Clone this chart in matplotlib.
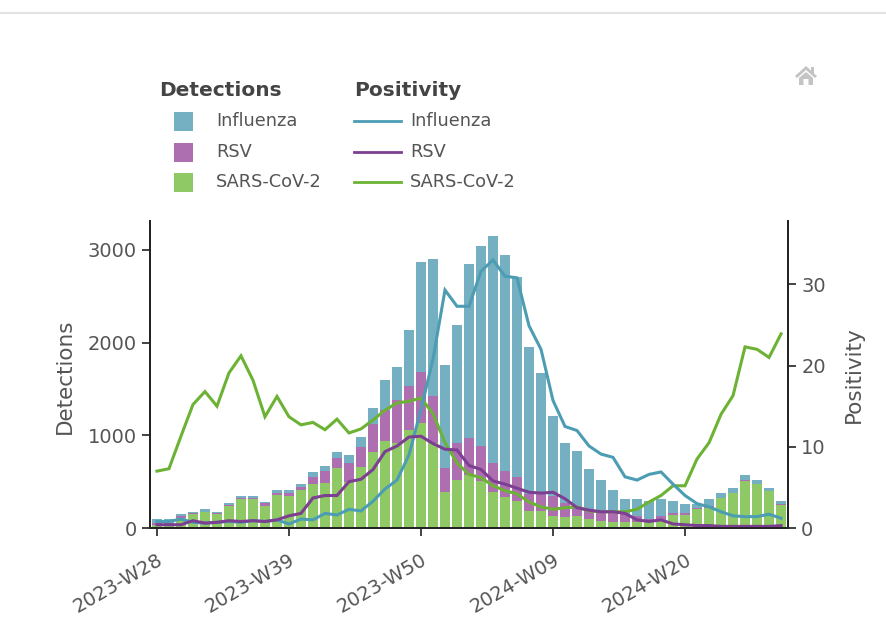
import matplotlib
matplotlib.use("Agg")
import matplotlib.pyplot as plt
from matplotlib.patches import Rectangle, Polygon
from matplotlib.lines import Line2D

W, H = 886, 641

# Week labels: 2023-W28 ... 2024-W28
weeks = [f"2023-W{w:02d}" for w in range(28, 53)] + [f"2024-W{w:02d}" for w in range(1, 29)]
tick_labels = ["2023-W28", "2023-W39", "2023-W50", "2024-W09", "2024-W20"]

# Detections (stacked bars)
sars_det = [30, 30, 105, 155, 170, 155, 240, 310, 310, 240, 360, 350, 412, 477, 490, 645, 500, 655,
            825, 940, 915, 1060, 1130, 915, 385, 520, 575, 510, 385, 330, 295, 185, 185, 130, 115, 130,
            97, 80, 70, 70, 60, 60, 80, 135, 135, 200, 215, 320, 375, 510, 470, 395, 250]
rsv_det = [20, 20, 25, 5, 5, 5, 10, 10, 10, 25, 20, 25, 30, 75, 130, 108, 205, 215,
           295, 330, 465, 470, 555, 505, 260, 395, 400, 370, 320, 287, 250, 180, 200, 220, 160, 110,
           108, 105, 115, 80, 70, 37, 50, 25, 25, 15, 25, 5, 5, 5, 5, 5, 5]
flu_det = [47, 47, 20, 10, 30, 10, 20, 20, 20, 20, 25, 30, 35, 48, 50, 72, 85, 110,
           170, 330, 360, 605, 1180, 1480, 1112, 1272, 1875, 2165, 2445, 2323, 2165, 1585, 1290, 855, 640, 590,
           430, 335, 227, 160, 180, 198, 180, 135, 100, 45, 70, 55, 50, 55, 45, 30, 40]

# Positivity (lines)
flu_pos = [0.8, 0.8, 1.1, 0.7, 0.6, 0.7, 0.8, 0.7, 0.9, 0.8, 1.0, 0.5, 1.1, 1.0, 1.8, 1.6, 2.3, 2.1,
           3.3, 4.8, 5.9, 9.0, 14.6, 20.8, 29.3, 27.3, 27.3, 31.6, 33.0, 31.0, 30.8, 24.9, 22.0, 15.7, 12.5, 12.0,
           10.1, 9.1, 8.7, 6.3, 5.9, 6.6, 6.9, 5.4, 4.0, 3.0, 2.6, 2.0, 1.5, 1.4, 1.4, 1.7, 1.2]
rsv_pos = [0.4, 0.4, 0.4, 0.9, 0.6, 0.7, 0.9, 0.8, 0.9, 0.8, 1.0, 1.5, 1.8, 3.7, 4.0, 4.0, 5.7, 6.0,
           7.2, 9.4, 10.1, 11.2, 11.3, 10.4, 9.7, 9.6, 7.7, 7.2, 5.8, 5.4, 4.9, 4.4, 4.3, 4.4, 3.6, 2.5,
           2.2, 2.0, 2.0, 1.8, 1.0, 0.8, 1.0, 0.5, 0.4, 0.3, 0.3, 0.2, 0.2, 0.2, 0.2, 0.2, 0.3]
sars_pos = [7.0, 7.3, 11.3, 15.2, 16.8, 15.0, 19.1, 21.2, 18.2, 13.7, 16.2, 13.7, 12.7, 13.0, 12.1, 13.4, 11.7, 12.2,
            13.3, 14.5, 15.4, 15.6, 16.0, 14.1, 10.5, 8.0, 6.6, 6.2, 5.2, 4.6, 4.2, 3.2, 2.6, 2.3, 2.5, 2.6,
            2.1, 2.0, 2.0, 2.0, 2.3, 3.2, 4.0, 5.2, 5.2, 8.5, 10.5, 14.0, 16.3, 22.3, 22.0, 21.0, 23.9]

FLU_BAR, RSV_BAR, SARS_BAR = "#74afc2", "#ad6fb0", "#8ec965"
FLU_LINE, RSV_LINE, SARS_LINE = "#4c9db3", "#7d3f91", "#6cb234"
TXT = "#555555"
AXC = "#222222"

plt.rcParams["font.family"] = ["DejaVu Sans"]
fig = plt.figure(figsize=(W / 100, H / 100), dpi=100, facecolor="white")
ax = fig.add_axes([150 / W, 1 - 528 / H, 638 / W, 307 / H])
ax2 = ax.twinx()
ax.set_zorder(1)
ax2.set_zorder(2)
ax2.patch.set_visible(False)

x = list(range(len(weeks)))
b1 = sars_det
b2 = [a + b for a, b in zip(sars_det, rsv_det)]
ax.bar(x, sars_det, width=0.8, color=SARS_BAR)
ax.bar(x, rsv_det, width=0.8, bottom=b1, color=RSV_BAR)
ax.bar(x, flu_det, width=0.8, bottom=b2, color=FLU_BAR)

ax2.plot(x, sars_pos, color=SARS_LINE, lw=2.2, solid_joinstyle="miter")
ax2.plot(x, flu_pos, color=FLU_LINE, lw=2.2, solid_joinstyle="miter")
ax2.plot(x, rsv_pos, color=RSV_LINE, lw=2.2, solid_joinstyle="miter")

ax.set_xlim(-0.58, 52.58)
ax.set_ylim(0, 3312)
ax2.set_ylim(0, 37.8)
ax.set_xticks([weeks.index(t) for t in tick_labels])
ax.set_xticklabels(tick_labels, rotation=30, ha="right", rotation_mode="anchor", fontsize=14, color=TXT)
ax.set_yticks([0, 1000, 2000, 3000])
ax2.set_yticks([0, 10, 20, 30])
ax.tick_params(axis="y", labelsize=14, labelcolor=TXT, length=6, width=1.2, color=AXC)
ax.tick_params(axis="x", length=6, width=1.2, color=AXC, pad=10)
ax2.tick_params(axis="y", labelsize=14, labelcolor=TXT, length=6, width=1.2, color=AXC)
for a in (ax, ax2):
    a.spines["top"].set_visible(False)
    for s in ("left", "right", "bottom"):
        a.spines[s].set_linewidth(1.3)
        a.spines[s].set_color(AXC)

fig.text(65 / W, 1 - 376 / H, "Detections", rotation=90, ha="center", va="center", fontsize=15.5, color=TXT)
fig.text(854 / W, 1 - 375 / H, "Positivity", rotation=90, ha="center", va="center", fontsize=15.5, color=TXT)

# Legend, drawn by hand as two columns
def px(xp, yp):
    return xp / W, 1 - yp / H

fig.text(*px(159, 91), "Detections", fontsize=14.5, fontweight="bold", color="#444444", va="center")
fig.text(*px(354, 91), "Positivity", fontsize=14.5, fontweight="bold", color="#444444", va="center")
names = ["Influenza", "RSV", "SARS-CoV-2"]
rows = [121, 152, 182]
for name, yp, bc, lc in zip(names, rows, [FLU_BAR, RSV_BAR, SARS_BAR], [FLU_LINE, RSV_LINE, SARS_LINE]):
    x0, y0 = px(174, yp + 10)
    fig.add_artist(Rectangle((x0, y0), 19 / W, 19 / H, transform=fig.transFigure, color=bc, lw=0))
    fig.text(*px(216, yp), name, fontsize=12.8, color=TXT, va="center")
    x1, y1 = px(354, yp)
    x2, _ = px(401, yp)
    fig.add_artist(Line2D([x1, x2], [y1, y1], transform=fig.transFigure, color=lc, lw=2))
    fig.text(*px(410, yp), name, fontsize=12.8, color=TXT, va="center")

# Page rule at the top and home icon
fig.add_artist(Line2D([0, 1], [1 - 13 / H] * 2, transform=fig.transFigure, color="#e2e2e2", lw=1.5))
roof = [(795, 76), (806, 66), (811, 70.5), (811, 67), (814, 67), (814, 73.5), (817, 76), (815, 78), (806, 70), (797, 78)]
body = [(799, 78), (806, 72), (813, 78), (813, 85), (808.5, 85), (808.5, 79), (803.5, 79), (803.5, 85), (799, 85)]
for shape in (roof, body):
    fig.add_artist(Polygon([px(*p) for p in shape], closed=True, transform=fig.transFigure, color="#c4c4c4", lw=0))

fig.savefig("out.png", dpi=100)
